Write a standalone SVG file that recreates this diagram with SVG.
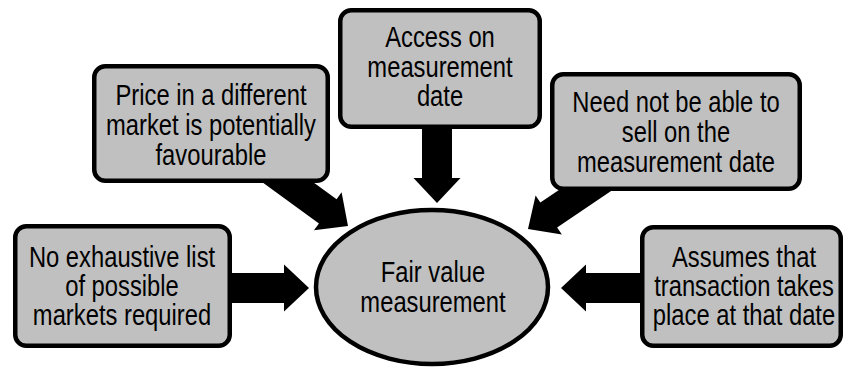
<svg xmlns="http://www.w3.org/2000/svg" width="844" height="369" viewBox="0 0 844 369">
<defs>
<style>
.box{fill:#c0c0c0;stroke:#000;stroke-width:4.5}
.t{font-family:"Liberation Sans","Arial",sans-serif;font-size:29px;fill:#000;text-anchor:middle}
.arr{fill:#000}
</style>
<polygon id="arrow" points="0,0 -25,-23.5 -25,-15 -95,-15 -95,15 -25,15 -25,23.5"/>
</defs>
<rect width="844" height="369" fill="#fff"/>
<g id="connectors" class="arr">
<use href="#arrow" transform="translate(309,288)"/>
<use href="#arrow" transform="translate(561,288) rotate(180)"/>
<use href="#arrow" transform="translate(437,203) rotate(90)"/>
<use href="#arrow" transform="translate(348,226) rotate(36)"/>
<use href="#arrow" transform="translate(528,229) rotate(146)"/>
</g>
<g id="price">
<rect class="box" x="94.25" y="66.25" width="233.5" height="114.5" rx="11"/>
<g class="t" transform="translate(211,0) scale(0.82,1)">
<text x="0" y="105">Price in a different</text>
<text x="0" y="135">market is potentially</text>
<text x="0" y="165">favourable</text>
</g>
</g>
<g id="access">
<rect class="box" x="340.25" y="10.25" width="199.5" height="116.5" rx="11"/>
<g class="t" transform="translate(440,0) scale(0.82,1)">
<text x="0" y="47">Access on</text>
<text x="0" y="77">measurement</text>
<text x="0" y="106">date</text>
</g>
</g>
<g id="neednot">
<rect class="box" x="552.25" y="74.25" width="247.5" height="114.5" rx="11"/>
<g class="t" transform="translate(676,0) scale(0.82,1)">
<text x="0" y="112">Need not be able to</text>
<text x="0" y="142">sell on the</text>
<text x="0" y="172">measurement date</text>
</g>
</g>
<g id="noexhaustive">
<rect class="box" x="15.25" y="226.25" width="214.5" height="119.5" rx="11"/>
<g class="t" transform="translate(122,0) scale(0.82,1)">
<text x="0" y="267">No exhaustive list</text>
<text x="0" y="296">of possible</text>
<text x="0" y="325">markets required</text>
</g>
</g>
<g id="assumes">
<rect class="box" x="642.25" y="227.25" width="198.5" height="118.5" rx="11"/>
<g class="t" transform="translate(744,0) scale(0.82,1)">
<text x="0" y="267">Assumes that</text>
<text x="0" y="296">transaction takes</text>
<text x="0" y="325">place at that date</text>
</g>
</g>
<g id="fairvalue">
<ellipse class="box" cx="432" cy="287" rx="116" ry="77"/>
<g class="t" transform="translate(433,0) scale(0.82,1)">
<text x="0" y="282">Fair value</text>
<text x="0" y="312">measurement</text>
</g>
</g>
</svg>
